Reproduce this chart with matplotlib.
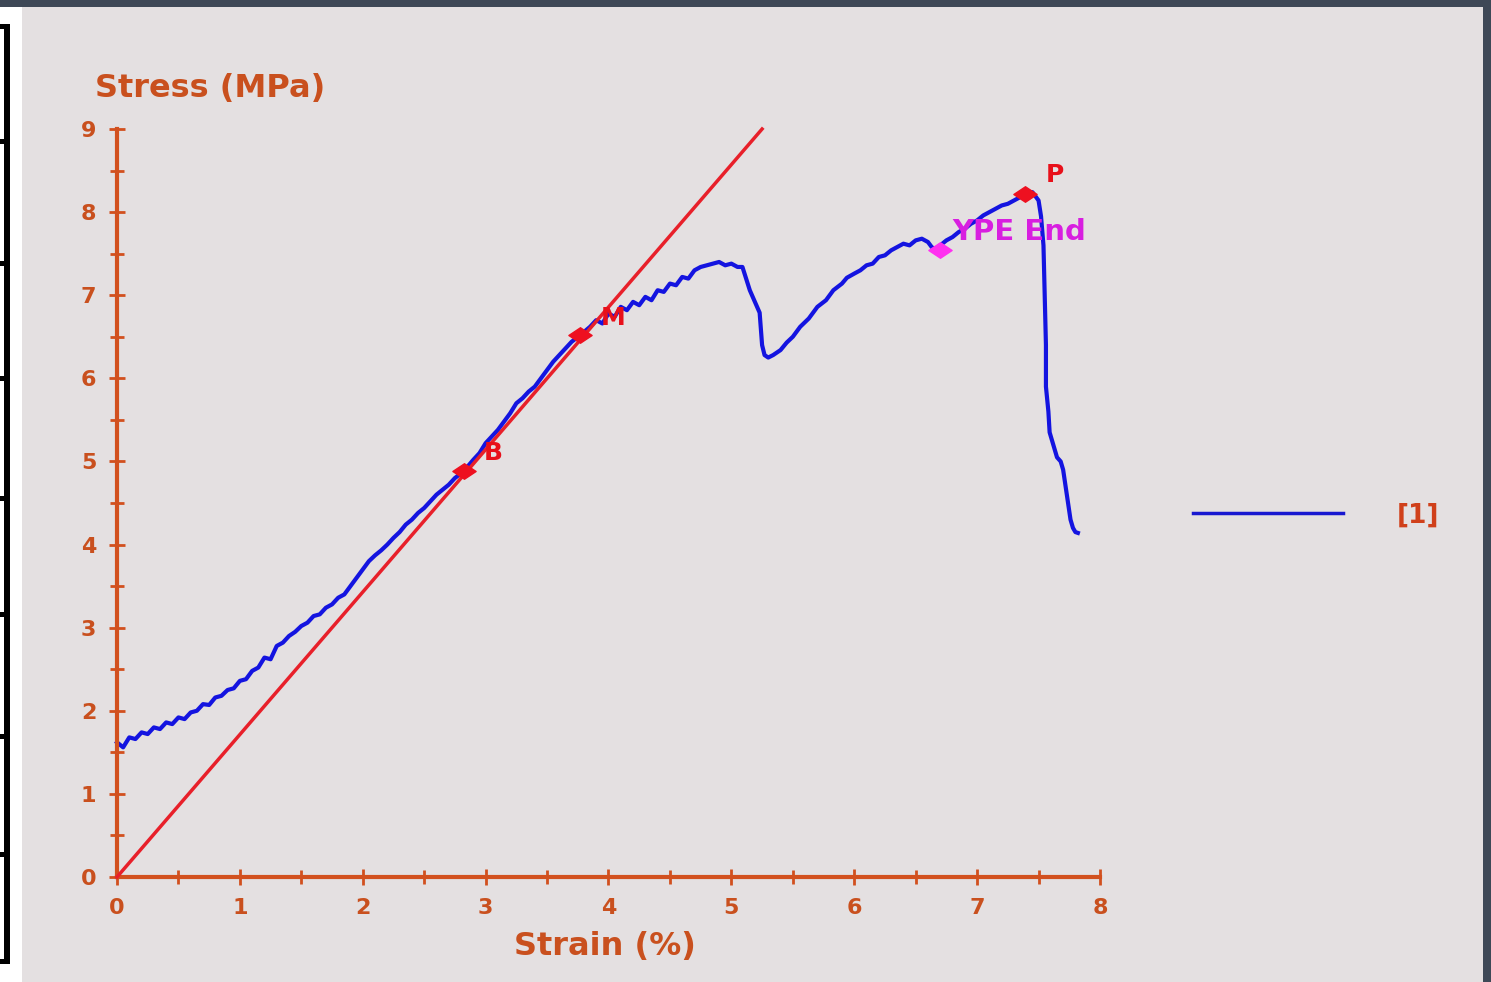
import matplotlib
matplotlib.use("Agg")
import matplotlib.pyplot as plt
from matplotlib.patches import Rectangle
from matplotlib.path import Path
import numpy as np

# ---- data ----
strain = [0.0, 0.05, 0.1, 0.15, 0.2, 0.25, 0.3, 0.35, 0.4, 0.45, 0.5, 0.55, 0.6, 0.65, 0.7,
          0.75, 0.8, 0.85, 0.9, 0.95, 1.0, 1.05, 1.1, 1.15, 1.2, 1.25, 1.3, 1.35, 1.4, 1.45,
          1.5, 1.55, 1.6, 1.65, 1.7, 1.75, 1.8, 1.85, 1.9, 1.95, 2.0, 2.05, 2.1, 2.15, 2.2,
          2.25, 2.3, 2.35, 2.4, 2.45, 2.5, 2.55, 2.6, 2.65, 2.7, 2.75, 2.82, 2.9, 2.95, 3.0,
          3.05, 3.1, 3.15, 3.2, 3.25, 3.3, 3.35, 3.4, 3.45, 3.5, 3.55, 3.6, 3.65, 3.7, 3.77,
          3.85, 3.9, 3.95, 4.0, 4.05, 4.1, 4.15, 4.2, 4.25, 4.3, 4.35, 4.4, 4.45, 4.5, 4.55,
          4.6, 4.65, 4.7, 4.75, 4.8, 4.85, 4.9, 4.95, 5.0, 5.05, 5.09, 5.15, 5.23, 5.25, 5.27,
          5.3, 5.34, 5.4, 5.45, 5.5, 5.56, 5.63, 5.7, 5.77, 5.83, 5.9, 5.94, 6.0, 6.05, 6.1,
          6.15, 6.2, 6.25, 6.3, 6.35, 6.4, 6.45, 6.5, 6.55, 6.6, 6.63, 6.66, 6.7, 6.75, 6.8,
          6.85, 6.9, 6.95, 7.0, 7.05, 7.1, 7.15, 7.2, 7.25, 7.3, 7.35, 7.4, 7.45, 7.5, 7.52,
          7.54, 7.55, 7.56, 7.56, 7.58, 7.59, 7.62, 7.65, 7.68, 7.7, 7.72, 7.74, 7.76, 7.78,
          7.8, 7.82]
stress = [1.62, 1.56, 1.68, 1.66, 1.74, 1.72, 1.8, 1.78, 1.86, 1.84, 1.92, 1.9, 1.98, 2.0, 2.08,
          2.07, 2.16, 2.18, 2.25, 2.27, 2.36, 2.38, 2.48, 2.52, 2.64, 2.62, 2.78, 2.82, 2.9, 2.95,
          3.02, 3.06, 3.14, 3.16, 3.24, 3.28, 3.36, 3.4, 3.5, 3.6, 3.7, 3.8, 3.87, 3.93, 4.0,
          4.08, 4.15, 4.24, 4.3, 4.38, 4.44, 4.52, 4.6, 4.66, 4.72, 4.8, 4.88, 5.02, 5.1, 5.22,
          5.3, 5.38, 5.48, 5.58, 5.7, 5.76, 5.84, 5.9, 6.0, 6.1, 6.2, 6.28, 6.36, 6.44, 6.52,
          6.62, 6.7, 6.66, 6.78, 6.74, 6.86, 6.82, 6.92, 6.88, 6.98, 6.94, 7.06, 7.04, 7.14, 7.12,
          7.22, 7.2, 7.3, 7.34, 7.36, 7.38, 7.4, 7.36, 7.38, 7.34, 7.34, 7.06, 6.79, 6.4, 6.28,
          6.25, 6.28, 6.34, 6.43, 6.5, 6.62, 6.72, 6.86, 6.94, 7.06, 7.14, 7.21, 7.26, 7.3, 7.36,
          7.38, 7.46, 7.48, 7.54, 7.58, 7.62, 7.6, 7.66, 7.68, 7.64, 7.58, 7.55, 7.6, 7.66, 7.7,
          7.76, 7.8, 7.86, 7.9, 7.96, 8.0, 8.04, 8.08, 8.1, 8.14, 8.18, 8.22, 8.24, 8.14, 7.95,
          7.6, 7.0, 6.4, 5.9, 5.6, 5.35, 5.2, 5.05, 5.0, 4.9, 4.7, 4.5, 4.3, 4.2,
          4.15, 4.14]

modulus_x = [0.0, 5.25]
modulus_y = [0.0, 9.0]

point_labels = ["B", "M", "P"]
point_x = [2.82, 3.77, 7.39]
point_y = [4.88, 6.52, 8.22]
ype_x = [6.70]
ype_y = [7.545]
ype_label = "YPE End"

x_ticks = [0, 1, 2, 3, 4, 5, 6, 7, 8]
y_ticks = [0, 1, 2, 3, 4, 5, 6, 7, 8, 9]
legend_label = "[1]"

# ---- figure ----
W, H = 1491, 982
fig = plt.figure(figsize=(W / 100, H / 100), dpi=100)
fig.patch.set_facecolor("#3e4856")

def px_rect(x0, y0, x1, y1, color, z=-5):
    fig.patches.append(Rectangle((x0 / W, 1 - y1 / H), (x1 - x0) / W, (y1 - y0) / H,
                                 transform=fig.transFigure, facecolor=color,
                                 edgecolor="none", zorder=z))

# left white strip and boxes
px_rect(0, 7, 22, 982, "white", -5)
px_rect(4, 24, 10, 963, "black", -4)
for yy in [24, 139, 261, 376, 496, 612, 734, 852, 959]:
    px_rect(0, yy, 10, yy + 5, "black", -4)
# gray panel
px_rect(22, 7, 1483, 982, "#e4e0e1", -5)

ax_col = "#d2501e"
lab_col = "#c9501e"

ax = fig.add_axes([117 / W, (H - 877) / H, (1100 - 117) / W, (877 - 129) / H])
ax.set_zorder(2)
ax.set_facecolor("none")
ax.set_xlim(0, 8)
ax.set_ylim(0, 9)
for s in ["top", "right"]:
    ax.spines[s].set_visible(False)
for s in ["left", "bottom"]:
    ax.spines[s].set_color(ax_col)
    ax.spines[s].set_linewidth(3)
ax.set_xticks(x_ticks)
ax.set_yticks(y_ticks)
ax.set_xticks(np.arange(0.5, 8, 1.0), minor=True)
ax.set_yticks(np.arange(0.5, 9, 1.0), minor=True)
ax.tick_params(which="both", direction="inout", color=ax_col, width=2)
ax.tick_params(which="major", length=12)
ax.tick_params(which="minor", length=10)
ax.tick_params(axis="x", which="major", pad=9)
ax.tick_params(axis="y", which="major", pad=9)
for lbl in ax.get_xticklabels() + ax.get_yticklabels():
    lbl.set_fontweight("bold")
    lbl.set_fontsize(16)
    lbl.set_color(lab_col)
    lbl.set_family("DejaVu Sans")

ax.plot(modulus_x, modulus_y, color="#e8202a", lw=2.5, zorder=3, clip_on=False)
ax.plot(strain, stress, color="#1414e0", lw=3, zorder=2, clip_on=False)

dverts = [(-1.5, 0), (0, 1), (1.5, 0), (0, -1), (-1.5, 0)]
dmark = Path(dverts, [Path.MOVETO, Path.LINETO, Path.LINETO, Path.LINETO, Path.CLOSEPOLY])
ax.scatter(point_x, point_y, marker=dmark, s=280, color="#ee1020", zorder=5, clip_on=False)
ax.scatter(ype_x, ype_y, marker=dmark, s=280, color="#ff30f0", zorder=5, clip_on=False)

offsets = {"B": (0.24, 0.22), "M": (0.27, 0.21), "P": (0.24, 0.23)}
for t, x, y in zip(point_labels, point_x, point_y):
    dx, dy = offsets[t]
    ax.text(x + dx, y + dy, t, color="#e8101a", fontsize=18, fontweight="bold",
            ha="center", va="center", zorder=6, family="DejaVu Sans")
ax.text(ype_x[0] + 0.1, ype_y[0] + 0.22, ype_label, color="#d81ee0", fontsize=21,
        fontweight="bold", ha="left", va="center", zorder=6, family="DejaVu Sans")

fig.text(95 / W, 1 - 89 / H, "Stress (MPa)", color=lab_col, fontsize=23, fontweight="bold",
         ha="left", va="center", family="DejaVu Sans")
fig.text(605 / W, 1 - 947 / H, "Strain (%)", color=lab_col, fontsize=23, fontweight="bold",
         ha="center", va="center", family="DejaVu Sans")

# legend
lax = fig.add_axes([0, 0, 1, 1])
lax.set_zorder(1)
lax.set_axis_off()
lax.set_xlim(0, W)
lax.set_ylim(H, 0)
lax.plot([1193, 1343], [513, 513], color="#1818d0", lw=2.5)
lax.text(1418, 516, legend_label, color="#d0401a", fontsize=19, fontweight="bold",
         ha="center", va="center", family="DejaVu Sans")

fig.savefig("out.png", dpi=100, facecolor=fig.get_facecolor())
